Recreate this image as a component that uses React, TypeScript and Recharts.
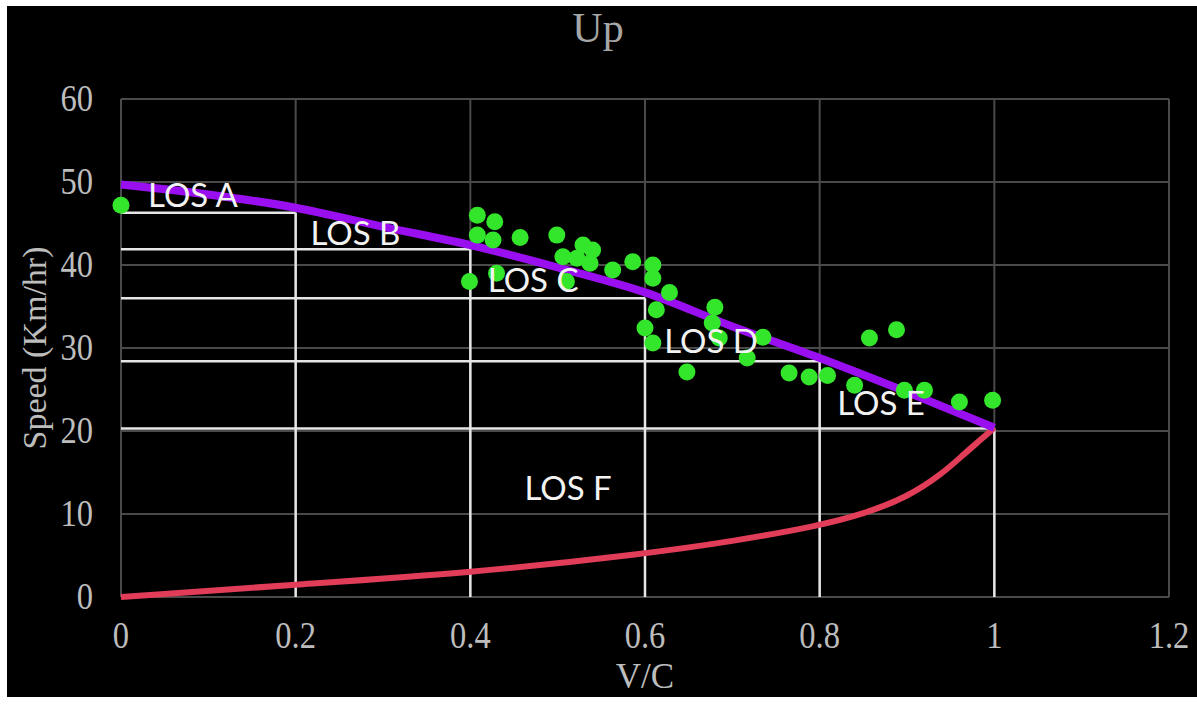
import {
  CartesianGrid,
  ComposedChart,
  Line,
  ReferenceLine,
  Scatter,
  XAxis,
  YAxis,
} from "recharts";

// Speed vs V/C, direction "Up": speed-flow model with field observations and LOS bands.

const vcTicks = [0, 0.2, 0.4, 0.6, 0.8, 1, 1.2];
const speedTicks = [0, 10, 20, 30, 40, 50, 60];

// upper (uncongested) branch of the fitted model
const upperVc = [0, 0.1, 0.2, 0.3, 0.4, 0.5, 0.6, 0.7, 0.8, 0.9, 1.0];
const upperSpeed = [49.7, 48.5, 46.9, 44.6, 42.4, 39.7, 36.7, 32.6, 28.8, 24.7, 20.4];

// lower (congested) branch
const lowerVc = [0, 0.2, 0.4, 0.6, 0.7, 0.8, 0.85, 0.9, 0.94, 0.965, 0.985, 1.0];
const lowerSpeed = [0, 1.5, 2.9, 5.2, 6.7, 8.6, 10.0, 12.0, 14.8, 17.2, 19.0, 20.4];

// observed V/C and speed
const obsVc = [
  0, 0.408, 0.428, 0.408, 0.426, 0.457, 0.499, 0.529, 0.54, 0.506, 0.522, 0.537,
  0.563, 0.586, 0.609, 0.609, 0.399, 0.43, 0.51, 0.628, 0.613, 0.68, 0.6, 0.609,
  0.677, 0.685, 0.717, 0.735, 0.648, 0.765, 0.788, 0.809, 0.857, 0.888, 0.84,
  0.897, 0.92, 0.96, 0.998,
];
const obsSpeed = [
  47.2, 46.0, 45.2, 43.6, 43.0, 43.3, 43.6, 42.4, 41.8, 41.0, 40.8, 40.2,
  39.4, 40.4, 40.0, 38.4, 38.0, 39.0, 38.0, 36.7, 34.6, 34.9, 32.4, 30.6,
  33.0, 31.2, 28.8, 31.3, 27.1, 27.0, 26.5, 26.7, 31.2, 32.2, 25.5,
  24.9, 24.9, 23.5, 23.7,
];

// LOS thresholds: V/C limit and the speed at that limit
const losVc = [0.2, 0.4, 0.6, 0.8, 1.0];
const losSpeed = [46.3, 41.9, 36.0, 28.4, 20.3];

const losNames = ["LOS A", "LOS B", "LOS C", "LOS D", "LOS E", "LOS F"];
const losLabelVc = [0.031, 0.217, 0.42, 0.622, 0.82, 0.462];
const losLabelSpeed = [47.0, 42.4, 36.7, 29.4, 21.9, 11.7];

const upperData = upperVc.map((vc, i) => ({ vc, speed: upperSpeed[i] }));
const lowerData = lowerVc.map((vc, i) => ({ vc, speed: lowerSpeed[i] }));
const obsData = obsVc.map((vc, i) => ({ vc, speed: obsSpeed[i] }));
const losLabelData = losNames.map((name, i) => ({
  name,
  vc: losLabelVc[i],
  speed: losLabelSpeed[i],
}));

const SERIF = "'Liberation Serif', 'Times New Roman', serif";
const AXIS_TEXT = "#bdbdbd";

function XTick({ x, y, payload }: any) {
  return (
    <g transform={`translate(${x},${y})`}>
      <text transform="scale(0.88,1)" textAnchor="middle" fill={AXIS_TEXT} fontFamily={SERIF} fontSize={37}>
        {String(payload.value)}
      </text>
    </g>
  );
}

function YTick({ x, y, payload }: any) {
  return (
    <g transform={`translate(${x},${y})`}>
      <text transform="scale(0.88,1)" textAnchor="end" dy={12} fill={AXIS_TEXT} fontFamily={SERIF} fontSize={37}>
        {String(payload.value)}
      </text>
    </g>
  );
}

function LosText(props: any) {
  const { cx, cy, payload } = props;
  return (
    <text x={cx} y={cy} fill="#f2f2f2" fontFamily="Lato, 'Open Sans', sans-serif" fontSize={33}>
      {payload.name}
    </text>
  );
}

function ObsDot(props: any) {
  return <circle cx={props.cx} cy={props.cy} r={8.5} fill="#33e62b" />;
}

export default function App() {
  return (
    <div style={{ position: "absolute", left: 0, top: 0, width: 1197, height: 706, background: "#fff" }}>
      <div style={{ position: "absolute", left: 7, top: 6, width: 1190, height: 691, background: "#000" }}>
        <div
          style={{
            position: "absolute",
            left: 0,
            top: 1,
            width: 1182,
            textAlign: "center",
            fontFamily: SERIF,
            fontSize: 42,
            lineHeight: "42px",
            color: "#a6a6a6",
          }}
        >
          Up
        </div>
        <ComposedChart width={1190} height={691} margin={{ top: 93, right: 28, left: 0, bottom: 0 }}>
          <CartesianGrid stroke="#4a4a4a" strokeWidth={2} />
          <XAxis
            type="number"
            dataKey="vc"
            domain={[0, 1.2]}
            ticks={vcTicks}
            axisLine={false}
            tickLine={false}
            tickSize={0}
            tickMargin={51}
            height={100}
            tick={<XTick />}
            label={{
              value: "V/C",
              position: "insideBottom",
              offset: 9,
              fill: AXIS_TEXT,
              fontFamily: SERIF,
              fontSize: 35,
            }}
          />
          <YAxis
            type="number"
            dataKey="speed"
            domain={[0, 60]}
            ticks={speedTicks}
            axisLine={false}
            tickLine={false}
            tickSize={0}
            tickMargin={28}
            width={114}
            tick={<YTick />}
            label={{
              value: "Speed (Km/hr)",
              angle: -90,
              position: "insideLeft",
              offset: 27,
              fill: AXIS_TEXT,
              fontFamily: SERIF,
              fontSize: 34,
              style: { textAnchor: "middle" },
            }}
          />
          {losVc.map((vc, i) => (
            <ReferenceLine
              key={`h${i}`}
              segment={[
                { x: 0, y: losSpeed[i] },
                { x: vc, y: losSpeed[i] },
              ]}
              stroke="#e6e6e6"
              strokeWidth={2.5}
            />
          ))}
          {losVc.map((vc, i) => (
            <ReferenceLine
              key={`v${i}`}
              segment={[
                { x: vc, y: 0 },
                { x: vc, y: losSpeed[i] },
              ]}
              stroke="#e6e6e6"
              strokeWidth={2.5}
            />
          ))}
          <Line
            data={lowerData}
            dataKey="speed"
            type="basis"
            stroke="#e23d58"
            strokeWidth={6}
            dot={false}
            activeDot={false}
            isAnimationActive={false}
          />
          <Scatter data={obsData} dataKey="speed" fill="#33e62b" shape={<ObsDot />} isAnimationActive={false} />
          <Line
            data={upperData}
            dataKey="speed"
            type="monotone"
            stroke="#9a0ff0"
            strokeWidth={8}
            dot={false}
            activeDot={false}
            isAnimationActive={false}
          />
          <Scatter data={losLabelData} dataKey="speed" shape={<LosText />} isAnimationActive={false} />
        </ComposedChart>
      </div>
    </div>
  );
}
